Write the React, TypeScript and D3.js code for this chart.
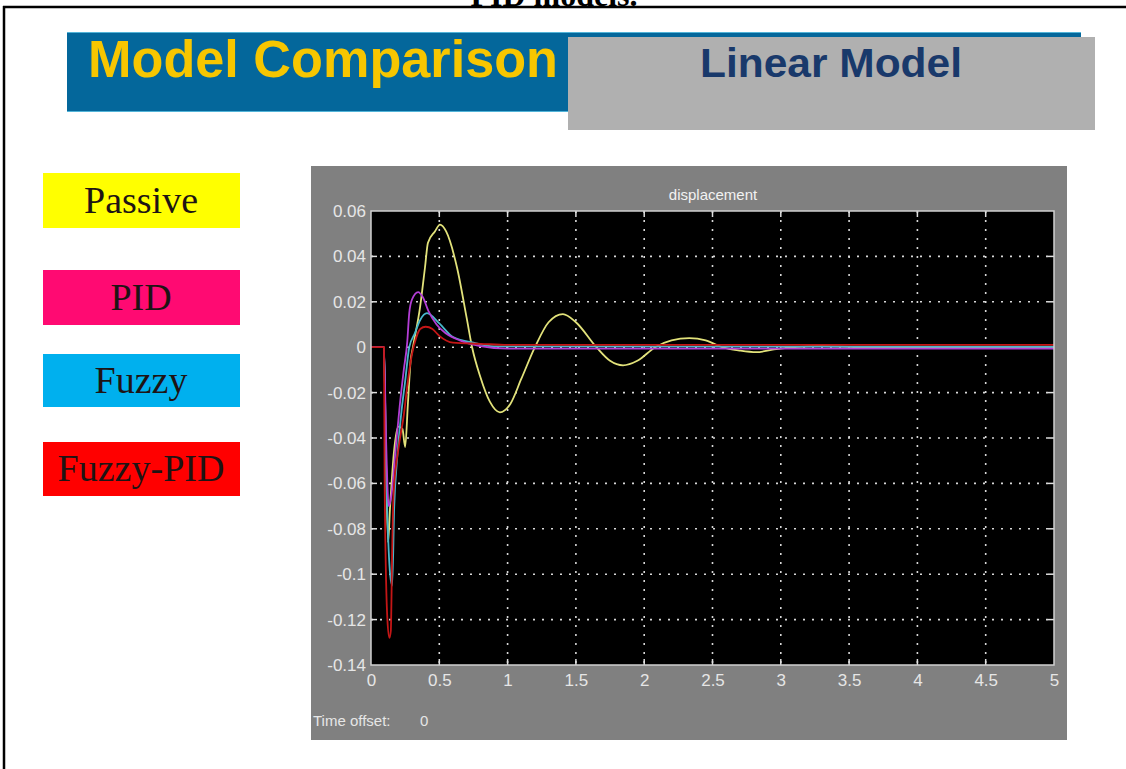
import React, { useEffect, useRef } from 'react'
import * as d3 from 'd3'

// time (s), displacement (m)
const passive: [number, number][] = [
  [0, 0], [0.095, 0], [0.11, -0.05], [0.125, -0.086], [0.14, -0.07], [0.17, -0.045],
  [0.2, -0.035], [0.23, -0.036], [0.25, -0.044], [0.27, -0.025], [0.29, -0.006],
  [0.307, 0], [0.36, 0.018], [0.395, 0.035], [0.417, 0.046], [0.468, 0.051],
  [0.505, 0.054], [0.55, 0.051], [0.63, 0.035], [0.7, 0.013], [0.74, 0],
  [0.8, -0.013], [0.87, -0.024], [0.944, -0.0287], [1.02, -0.025], [1.1, -0.014],
  [1.2, 0], [1.3, 0.011], [1.405, 0.0146], [1.5, 0.011], [1.65, 0], [1.75, -0.006],
  [1.845, -0.008], [1.95, -0.006], [2.08, 0], [2.2, 0.003], [2.33, 0.004],
  [2.45, 0.003], [2.57, 0], [2.7, -0.0015], [2.82, -0.0022], [2.95, -0.001],
  [3.1, 0], [3.3, 0.0005], [3.6, 0], [5, 0],
]
const pid: [number, number][] = [
  [0, 0], [0.095, 0], [0.11, -0.04], [0.13, -0.07], [0.15, -0.065], [0.18, -0.045],
  [0.21, -0.026], [0.24, -0.01], [0.265, 0.002], [0.28, 0.015], [0.3, 0.021],
  [0.345, 0.0243], [0.38, 0.022], [0.42, 0.016], [0.48, 0.01], [0.55, 0.006],
  [0.65, 0.003], [0.8, 0.0005], [1.0, -0.0006], [5, -0.0006],
]
const fuzzy: [number, number][] = [
  [0, 0], [0.095, 0], [0.11, -0.05], [0.14, -0.1], [0.155, -0.105], [0.17, -0.07],
  [0.19, -0.05], [0.22, -0.03], [0.25, -0.015], [0.28, 0], [0.32, 0.006],
  [0.36, 0.012], [0.41, 0.015], [0.5, 0.0105], [0.6, 0.0045], [0.75, 0.002],
  [0.9, 0.0004], [5, 0.0002],
]
const fuzzyPid: [number, number][] = [
  [0, 0], [0.095, 0], [0.1, -0.06], [0.12, -0.12], [0.135, -0.128], [0.145, -0.125],
  [0.155, -0.09], [0.165, -0.065], [0.2, -0.045], [0.24, -0.03], [0.27, -0.015],
  [0.3, -0.003], [0.33, 0.004], [0.36, 0.008], [0.4, 0.009], [0.45, 0.008],
  [0.5, 0.005], [0.6, 0.002], [0.8, 0.0015], [1.0, 0.001], [5, 0.001],
]

const xTicks = [0, 0.5, 1, 1.5, 2, 2.5, 3, 3.5, 4, 4.5, 5]
const yTicks = [0.06, 0.04, 0.02, 0, -0.02, -0.04, -0.06, -0.08, -0.1, -0.12, -0.14]

const legendNames = ['Passive', 'PID', 'Fuzzy', 'Fuzzy-PID']
const legendFills = ['#ffff00', '#ff0a72', '#00b0ee', '#ff0000']
const legendTops = [173, 270, 354, 442]
const legendHeights = [55, 55, 53, 54]

const series = [
  { data: passive, color: '#e2e27a' },
  { data: fuzzy, color: '#48b8cc' },
  { data: pid, color: '#b43ed6' },
  { data: fuzzyPid, color: '#c41616' },
]

const W = 1126
const H = 769

export default function App() {
  const axRef = useRef<SVGGElement>(null)

  const plot = { left: 371, right: 1054, top: 211, bottom: 665 }
  const x = d3.scaleLinear().domain([0, 5]).range([plot.left, plot.right])
  const y = d3.scaleLinear().domain([-0.14, 0.06]).range([plot.bottom, plot.top])
  const line = d3
    .line<[number, number]>()
    .x(d => x(d[0]))
    .y(d => y(d[1]))
    .curve(d3.curveMonotoneX)

  useEffect(() => {
    const g = d3.select(axRef.current)
    g.selectAll('*').remove()
    const xa = g
      .append('g')
      .attr('transform', `translate(0,${plot.bottom})`)
      .call(d3.axisBottom(x).tickValues(xTicks).tickSize(0).tickPadding(9).tickFormat(d => String(d)))
    const ya = g
      .append('g')
      .attr('transform', `translate(${plot.left},0)`)
      .call(d3.axisLeft(y).tickValues(yTicks).tickSize(0).tickPadding(5).tickFormat(d => String(d)))
    ;[xa, ya].forEach(a => {
      a.select('.domain').remove()
      a.selectAll('text')
        .attr('fill', '#e6e6e6')
        .style('font-family', 'Liberation Sans Narrow, Liberation Sans, Arial, sans-serif')
        .style('font-size', '17px')
    })
  }, [])

  return (
    <svg
      width={W}
      height={H}
      style={{ position: 'absolute', left: 0, top: 0, background: '#fff' }}
    >
      {/* page frame and caption, cut at the top as in the scan */}
      <text
        x={554}
        y={6}
        textAnchor="middle"
        fontFamily="Liberation Serif, Times New Roman, serif"
        fontWeight="bold"
        fontSize={32}
      >
        PID models.
      </text>
      <line x1={3} x2={W} y1={7} y2={7} stroke="#000" strokeWidth={2.5} />
      <line x1={4} x2={4} y1={6} y2={H} stroke="#000" strokeWidth={2.5} />

      {/* header */}
      <rect x={67} y={32} width={1014} height={80} fill="#04679b" />
      <line x1={67} x2={1081} y1={32.5} y2={32.5} stroke="#52b4d8" strokeWidth={1} />
      <line x1={67} x2={568} y1={111.5} y2={111.5} stroke="#52b4d8" strokeWidth={1} />
      <text
        x={88}
        y={77}
        fill="#f7c600"
        fontFamily="Liberation Sans, Arial, sans-serif"
        fontWeight="bold"
        fontSize={51}
        textLength={470}
        lengthAdjust="spacingAndGlyphs"
      >
        Model Comparison
      </text>
      <rect x={568} y={37} width={527} height={93} fill="#b0b0b0" />
      <text
        x={700}
        y={77}
        fill="#19396b"
        fontFamily="Liberation Sans, Arial, sans-serif"
        fontWeight="bold"
        fontSize={41}
        textLength={262}
        lengthAdjust="spacingAndGlyphs"
      >
        Linear Model
      </text>

      {/* legend */}
      {legendNames.map((n, i) => (
        <g key={n}>
          <rect x={43} y={legendTops[i]} width={197} height={legendHeights[i]} fill={legendFills[i]} />
          <text
            x={141}
            y={legendTops[i] + legendHeights[i] / 2 + 12}
            textAnchor="middle"
            fill="#1e1414"
            fontFamily="Liberation Serif, Times New Roman, serif"
            fontSize={38}
          >
            {n}
          </text>
        </g>
      ))}

      {/* scope panel */}
      <rect x={311} y={166} width={756} height={574} fill="#808080" />
      <text
        x={713}
        y={200}
        textAnchor="middle"
        fill="#f2f2f2"
        fontFamily="Liberation Sans, Arial, sans-serif"
        fontSize={15}
      >
        displacement
      </text>
      <rect
        x={plot.left}
        y={plot.top}
        width={plot.right - plot.left}
        height={plot.bottom - plot.top}
        fill="#000"
      />
      {xTicks.slice(1, -1).map(t => (
        <g key={'gx' + t}>
          <line x1={x(t)} x2={x(t)} y1={plot.top} y2={plot.bottom} stroke="#d8d8d8" strokeWidth={1.6} strokeDasharray="2 7" />
          <line x1={x(t)} x2={x(t)} y1={plot.top} y2={plot.top + 6} stroke="#e0e0e0" strokeWidth={1.5} />
          <line x1={x(t)} x2={x(t)} y1={plot.bottom - 6} y2={plot.bottom} stroke="#e0e0e0" strokeWidth={1.5} />
        </g>
      ))}
      {yTicks.slice(1, -1).map(t => (
        <g key={'gy' + t}>
          <line x1={plot.left} x2={plot.right} y1={y(t)} y2={y(t)} stroke="#d8d8d8" strokeWidth={1.6} strokeDasharray="2 7" />
          <line x1={plot.left} x2={plot.left + 6} y1={y(t)} y2={y(t)} stroke="#e0e0e0" strokeWidth={1.5} />
          <line x1={plot.right - 6} x2={plot.right} y1={y(t)} y2={y(t)} stroke="#e0e0e0" strokeWidth={1.5} />
        </g>
      ))}
      {series.map((s, i) => (
        <path key={i} d={line(s.data) || ''} fill="none" stroke={s.color} strokeWidth={1.8} />
      ))}
      <rect
        x={plot.left}
        y={plot.top}
        width={plot.right - plot.left}
        height={plot.bottom - plot.top}
        fill="none"
        stroke="#d0d0d0"
        strokeWidth={1.5}
      />
      <g ref={axRef} />
      <text
        x={313}
        y={726}
        fill="#e6e6e6"
        fontFamily="Liberation Sans Narrow, Liberation Sans, Arial, sans-serif"
        fontSize={15}
      >
        Time offset:
      </text>
      <text
        x={420}
        y={726}
        fill="#e6e6e6"
        fontFamily="Liberation Sans Narrow, Liberation Sans, Arial, sans-serif"
        fontSize={15}
      >
        0
      </text>
    </svg>
  )
}
